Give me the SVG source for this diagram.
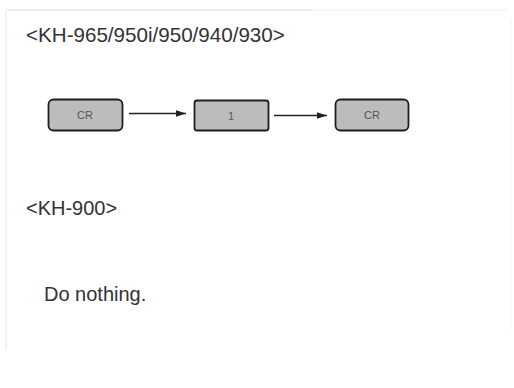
<svg xmlns="http://www.w3.org/2000/svg" width="514" height="388" viewBox="0 0 514 388">
<defs>
<style>
.t{font-family:"Liberation Sans",Arial,sans-serif;font-size:20px;fill:#333}
.k{font-family:"Liberation Sans",Arial,sans-serif;font-size:11px;fill:#555;text-anchor:middle}
.b{fill:#bcbcbc;stroke:#1e1e1e;stroke-width:1.8}
.c{stroke:#222;stroke-width:1.3;fill:none;marker-end:url(#ah)}
</style>
<marker id="ah" markerWidth="11" markerHeight="8" refX="10" refY="4" orient="auto" markerUnits="userSpaceOnUse">
<path d="M0,0.8 L10,4 L0,7.2 Z" fill="#222"/>
</marker>
</defs>
<rect width="514" height="388" fill="#fff"/>
<line x1="7" y1="10" x2="312" y2="10" stroke="#d8d8d8" stroke-width="1"/>
<line x1="312" y1="10" x2="508" y2="10" stroke="#efefef" stroke-width="1"/>
<line x1="6" y1="10" x2="6" y2="350" stroke="#e6e6e6" stroke-width="1"/>
<line x1="511" y1="20" x2="511" y2="330" stroke="#f2f2f2" stroke-width="1"/>
<text class="t" x="26" y="42" style="font-size:20.6px">&lt;KH-965/950i/950/940/930&gt;</text>
<g id="n1"><rect class="b" x="48.5" y="99.5" width="74" height="31" rx="5"/><text class="k" x="85" y="119">CR</text></g>
<g id="n2"><rect class="b" x="194.5" y="100.5" width="74" height="30" rx="2.5"/><text class="k" x="231" y="120">1</text></g>
<g id="n3"><rect class="b" x="335.5" y="99.5" width="73" height="31" rx="5"/><text class="k" x="372" y="119">CR</text></g>
<g id="connectors">
<line class="c" x1="129" y1="113.5" x2="186" y2="113.5"/>
<line class="c" x1="274" y1="115.5" x2="327" y2="115.5"/>
</g>
<text class="t" x="26" y="215">&lt;KH-900&gt;</text>
<text class="t" x="44" y="301">Do nothing.</text>
</svg>
